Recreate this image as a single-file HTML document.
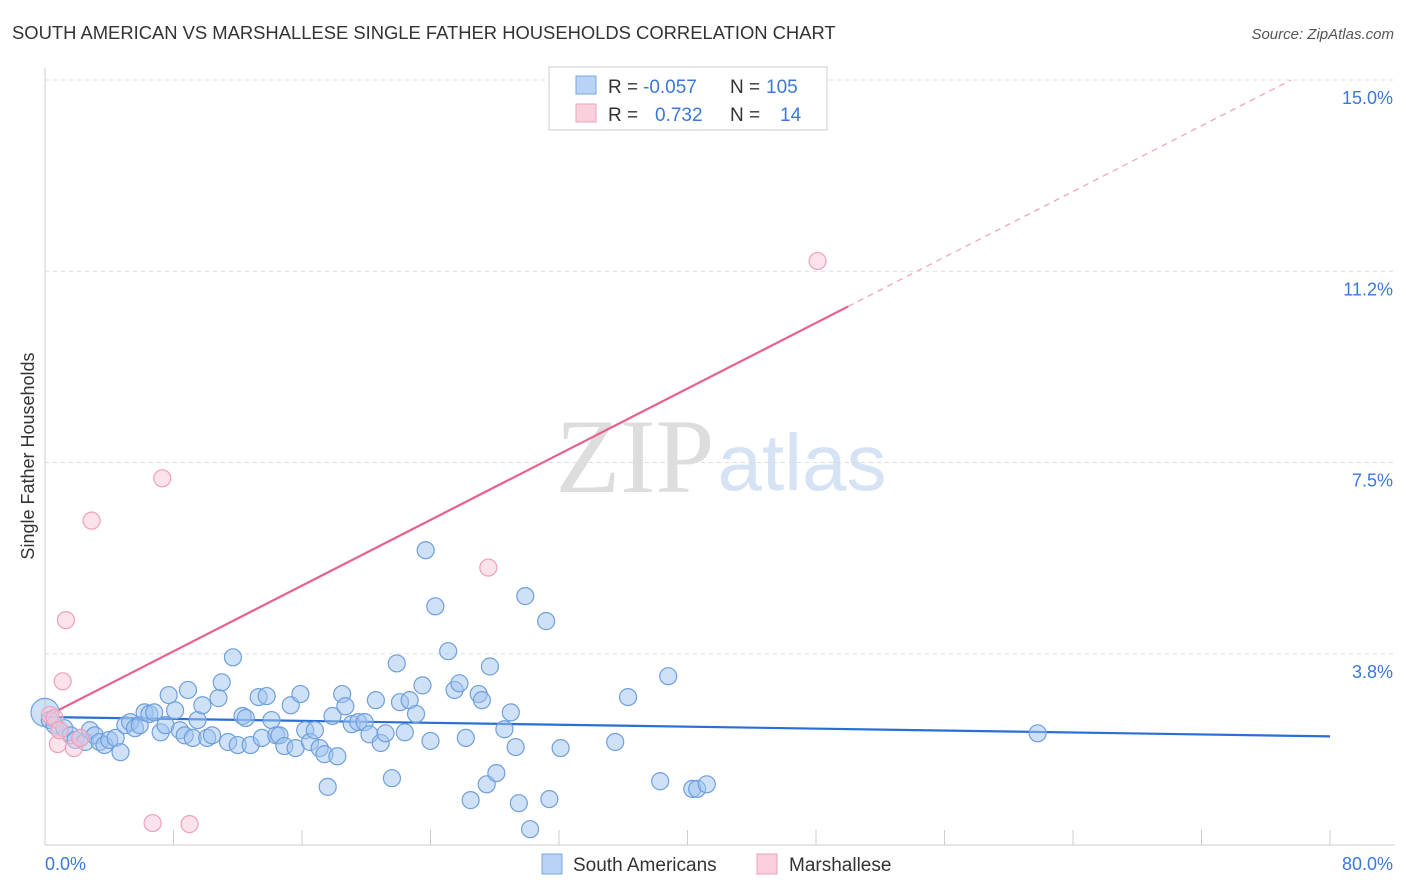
<!DOCTYPE html>
<html><head><meta charset="utf-8">
<style>
body{margin:0;background:#fff;font-family:"Liberation Sans",sans-serif;}
svg{display:block}
</style></head>
<body>
<svg id="chart" width="1406" height="892" viewBox="0 0 1406 892" xmlns="http://www.w3.org/2000/svg">
<text x="12" y="39" font-size="18.4" fill="#333">SOUTH AMERICAN VS MARSHALLESE SINGLE FATHER HOUSEHOLDS CORRELATION CHART</text>
<text x="1394" y="39" font-size="15" fill="#555" font-style="italic" text-anchor="end">Source: ZipAtlas.com</text>
<g>
<text x="635" y="492" font-size="106" font-family="Liberation Serif,serif" fill="#ddd" text-anchor="middle">ZIP</text>
<text x="802" y="490" font-size="80" fill="#d5e3f5" text-anchor="middle">atlas</text>
</g>
<g id="grid"></g>
<g id="axes"></g>
<g id="lines"></g>
<g id="points"></g>
<g>
<rect x="549" y="67" width="278" height="63" fill="#fff" stroke="#ccc"/>
<rect x="576" y="76" width="20" height="18" fill="#b8d3f5" stroke="#7aa7e0"/>
<text x="608" y="93" font-size="19" fill="#333">R =</text>
<text x="643" y="93" font-size="19" fill="#3b78d8">-0.057</text>
<text x="730" y="93" font-size="19" fill="#333">N =</text>
<text x="766" y="93" font-size="19" fill="#3b78d8">105</text>
<rect x="576" y="104" width="20" height="18" fill="#fbd0dd" stroke="#f0a0b8"/>
<text x="608" y="121" font-size="19" fill="#333">R =</text>
<text x="655" y="121" font-size="19" fill="#3b78d8">0.732</text>
<text x="730" y="121" font-size="19" fill="#333">N =</text>
<text x="780" y="121" font-size="19" fill="#3b78d8">14</text>
</g>
<g>
<rect x="542" y="854" width="20" height="20" fill="#b8d3f5" stroke="#7aa7e0"/>
<text x="573" y="871" font-size="19" fill="#333">South Americans</text>
<rect x="757" y="854" width="20" height="20" fill="#fbd0dd" stroke="#f0a0b8"/>
<text x="789" y="871" font-size="19" fill="#333">Marshallese</text>
</g>
<text transform="translate(34,456) rotate(-90)" font-size="18" fill="#333" text-anchor="middle">Single Father Households</text>
</svg>
<script>
const yTicks=[3.75,7.5,11.25,15];
const yTickLabels=["3.8%","7.5%","11.2%","15.0%"];
const xTicks=[0,8,16,24,32,40,48,56,64,72,80];
const blueX=[0,0.3,0.6,0.9,1.2,1.6,1.9,2.2,2.5,2.8,3.1,3.4,3.7,4.0,4.4,4.7,5.0,5.3,5.6,5.9,6.2,6.5,6.8,7.2,7.5,7.7,8.1,8.4,8.7,8.9,9.2,9.5,9.8,10.1,10.4,10.8,11.0,11.4,11.7,12.0,12.3,12.5,12.8,13.3,13.5,13.8,14.1,14.4,14.6,14.9,15.3,15.6,15.9,16.2,16.5,16.8,17.1,17.4,17.6,17.9,18.2,18.5,18.7,19.1,19.5,19.9,20.2,20.6,20.9,21.2,21.6,21.9,22.1,22.4,22.7,23.1,23.5,23.7,24.0,24.3,25.1,25.5,25.8,26.2,26.5,27.0,27.2,27.5,27.7,28.1,28.6,29.0,29.3,29.5,29.9,30.2,31.2,31.4,32.1,35.5,36.3,38.3,38.8,40.3,40.6,41.2,61.8];
const blueY=[2.60,2.45,2.35,2.25,2.29,2.15,2.06,2.10,2.02,2.25,2.15,2.02,1.96,2.06,2.10,1.82,2.35,2.41,2.29,2.35,2.60,2.57,2.60,2.21,2.35,2.94,2.64,2.25,2.15,3.04,2.10,2.45,2.74,2.10,2.15,2.88,3.19,2.02,3.68,1.96,2.53,2.49,1.96,2.90,2.10,2.92,2.45,2.15,2.15,1.94,2.74,1.90,2.96,2.25,2.02,2.25,1.90,1.78,1.14,2.53,1.74,2.96,2.72,2.37,2.41,2.41,2.17,2.84,2.00,2.19,1.31,3.56,2.80,2.21,2.84,2.57,3.13,5.78,2.04,4.68,3.80,3.04,3.17,2.10,0.88,2.96,2.84,1.19,3.50,1.41,2.27,2.60,1.92,0.82,4.88,0.31,4.39,0.90,1.90,2.02,2.90,1.25,3.31,1.10,1.10,1.19,2.19];
const pinkX=[0.3,0.6,0.8,0.9,1.1,1.3,1.8,2.2,2.9,6.7,7.3,9.0,27.6,48.1];
const pinkY=[2.55,2.49,1.98,2.25,3.21,4.41,1.90,2.10,6.36,0.43,7.19,0.41,5.44,11.45];
const blueTrend=[2.51,2.13];
const pinkTrend=[2.51,0.161];

const X0=45,X1=1330,Y0=845,YT=80;
const xs=v=>X0+(v/80)*(X1-X0);
const ys=v=>Y0-(v/15)*(Y0-YT);
const NS="http://www.w3.org/2000/svg";
function mk(tag,attrs,parent){const e=document.createElementNS(NS,tag);for(const k in attrs)e.setAttribute(k,attrs[k]);parent.appendChild(e);return e;}
const grid=document.getElementById('grid'),axes=document.getElementById('axes'),lines=document.getElementById('lines'),pts=document.getElementById('points');
yTicks.forEach((t,i)=>{
 const l=mk('line',{x1:X0,x2:1395,y1:ys(t),y2:ys(t),stroke:'#ddd','stroke-dasharray':'4,4'},grid);
 
 
 const tx=mk('text',{x:1393,y:ys(t)+24,'font-size':18,fill:'#3b78d8','text-anchor':'end'},axes);
 tx.textContent=yTickLabels[i];
 
 
});
mk('line',{x1:X0,x2:X0,y1:68,y2:Y0,stroke:'#ccc'},axes);
mk('line',{x1:X0,x2:1395,y1:Y0,y2:Y0,stroke:'#ccc'},axes);
xTicks.forEach(t=>{
 const l=mk('line',{x1:xs(t),x2:xs(t),y1:830,y2:Y0,stroke:'#ccc'},axes);
 
 
});
const xl0=mk('text',{x:45,y:870,'font-size':18,fill:'#3b78d8'},axes);xl0.textContent='0.0%';


const xl1=mk('text',{x:1393,y:870,'font-size':18,fill:'#3b78d8','text-anchor':'end'},axes);xl1.textContent='80.0%';



blueX.forEach((x,i)=>{
 const c=mk('circle',{cx:xs(x),cy:ys(blueY[i]),r:i===0?14:8.5,fill:'rgba(160,196,240,0.5)',stroke:'#6f9fdc','stroke-width':1.2},pts);
 
 
});
pinkX.forEach((x,i)=>{
 const c=mk('circle',{cx:xs(x),cy:ys(pinkY[i]),r:8.5,fill:'rgba(250,200,215,0.5)',stroke:'#f0a0b8','stroke-width':1.2},pts);
 
 
});
const bl=mk('line',{x1:xs(0),y1:ys(blueTrend[0]),x2:xs(80),y2:ys(blueTrend[1]),stroke:'#2a6fd6','stroke-width':2.2},lines);


const pAt=x=>pinkTrend[0]+pinkTrend[1]*x;
const xEnd=(15-pinkTrend[0])/pinkTrend[1];
const pl=mk('line',{x1:xs(0),y1:ys(pAt(0)),x2:xs(50),y2:ys(pAt(50)),stroke:'#e8608c','stroke-width':2.2},lines);


const pd=mk('line',{x1:xs(50),y1:ys(pAt(50)),x2:xs(xEnd),y2:ys(15),stroke:'#f0a0b8','stroke-width':1.2,'stroke-dasharray':'6,5'},lines);


</script>
</body></html>
